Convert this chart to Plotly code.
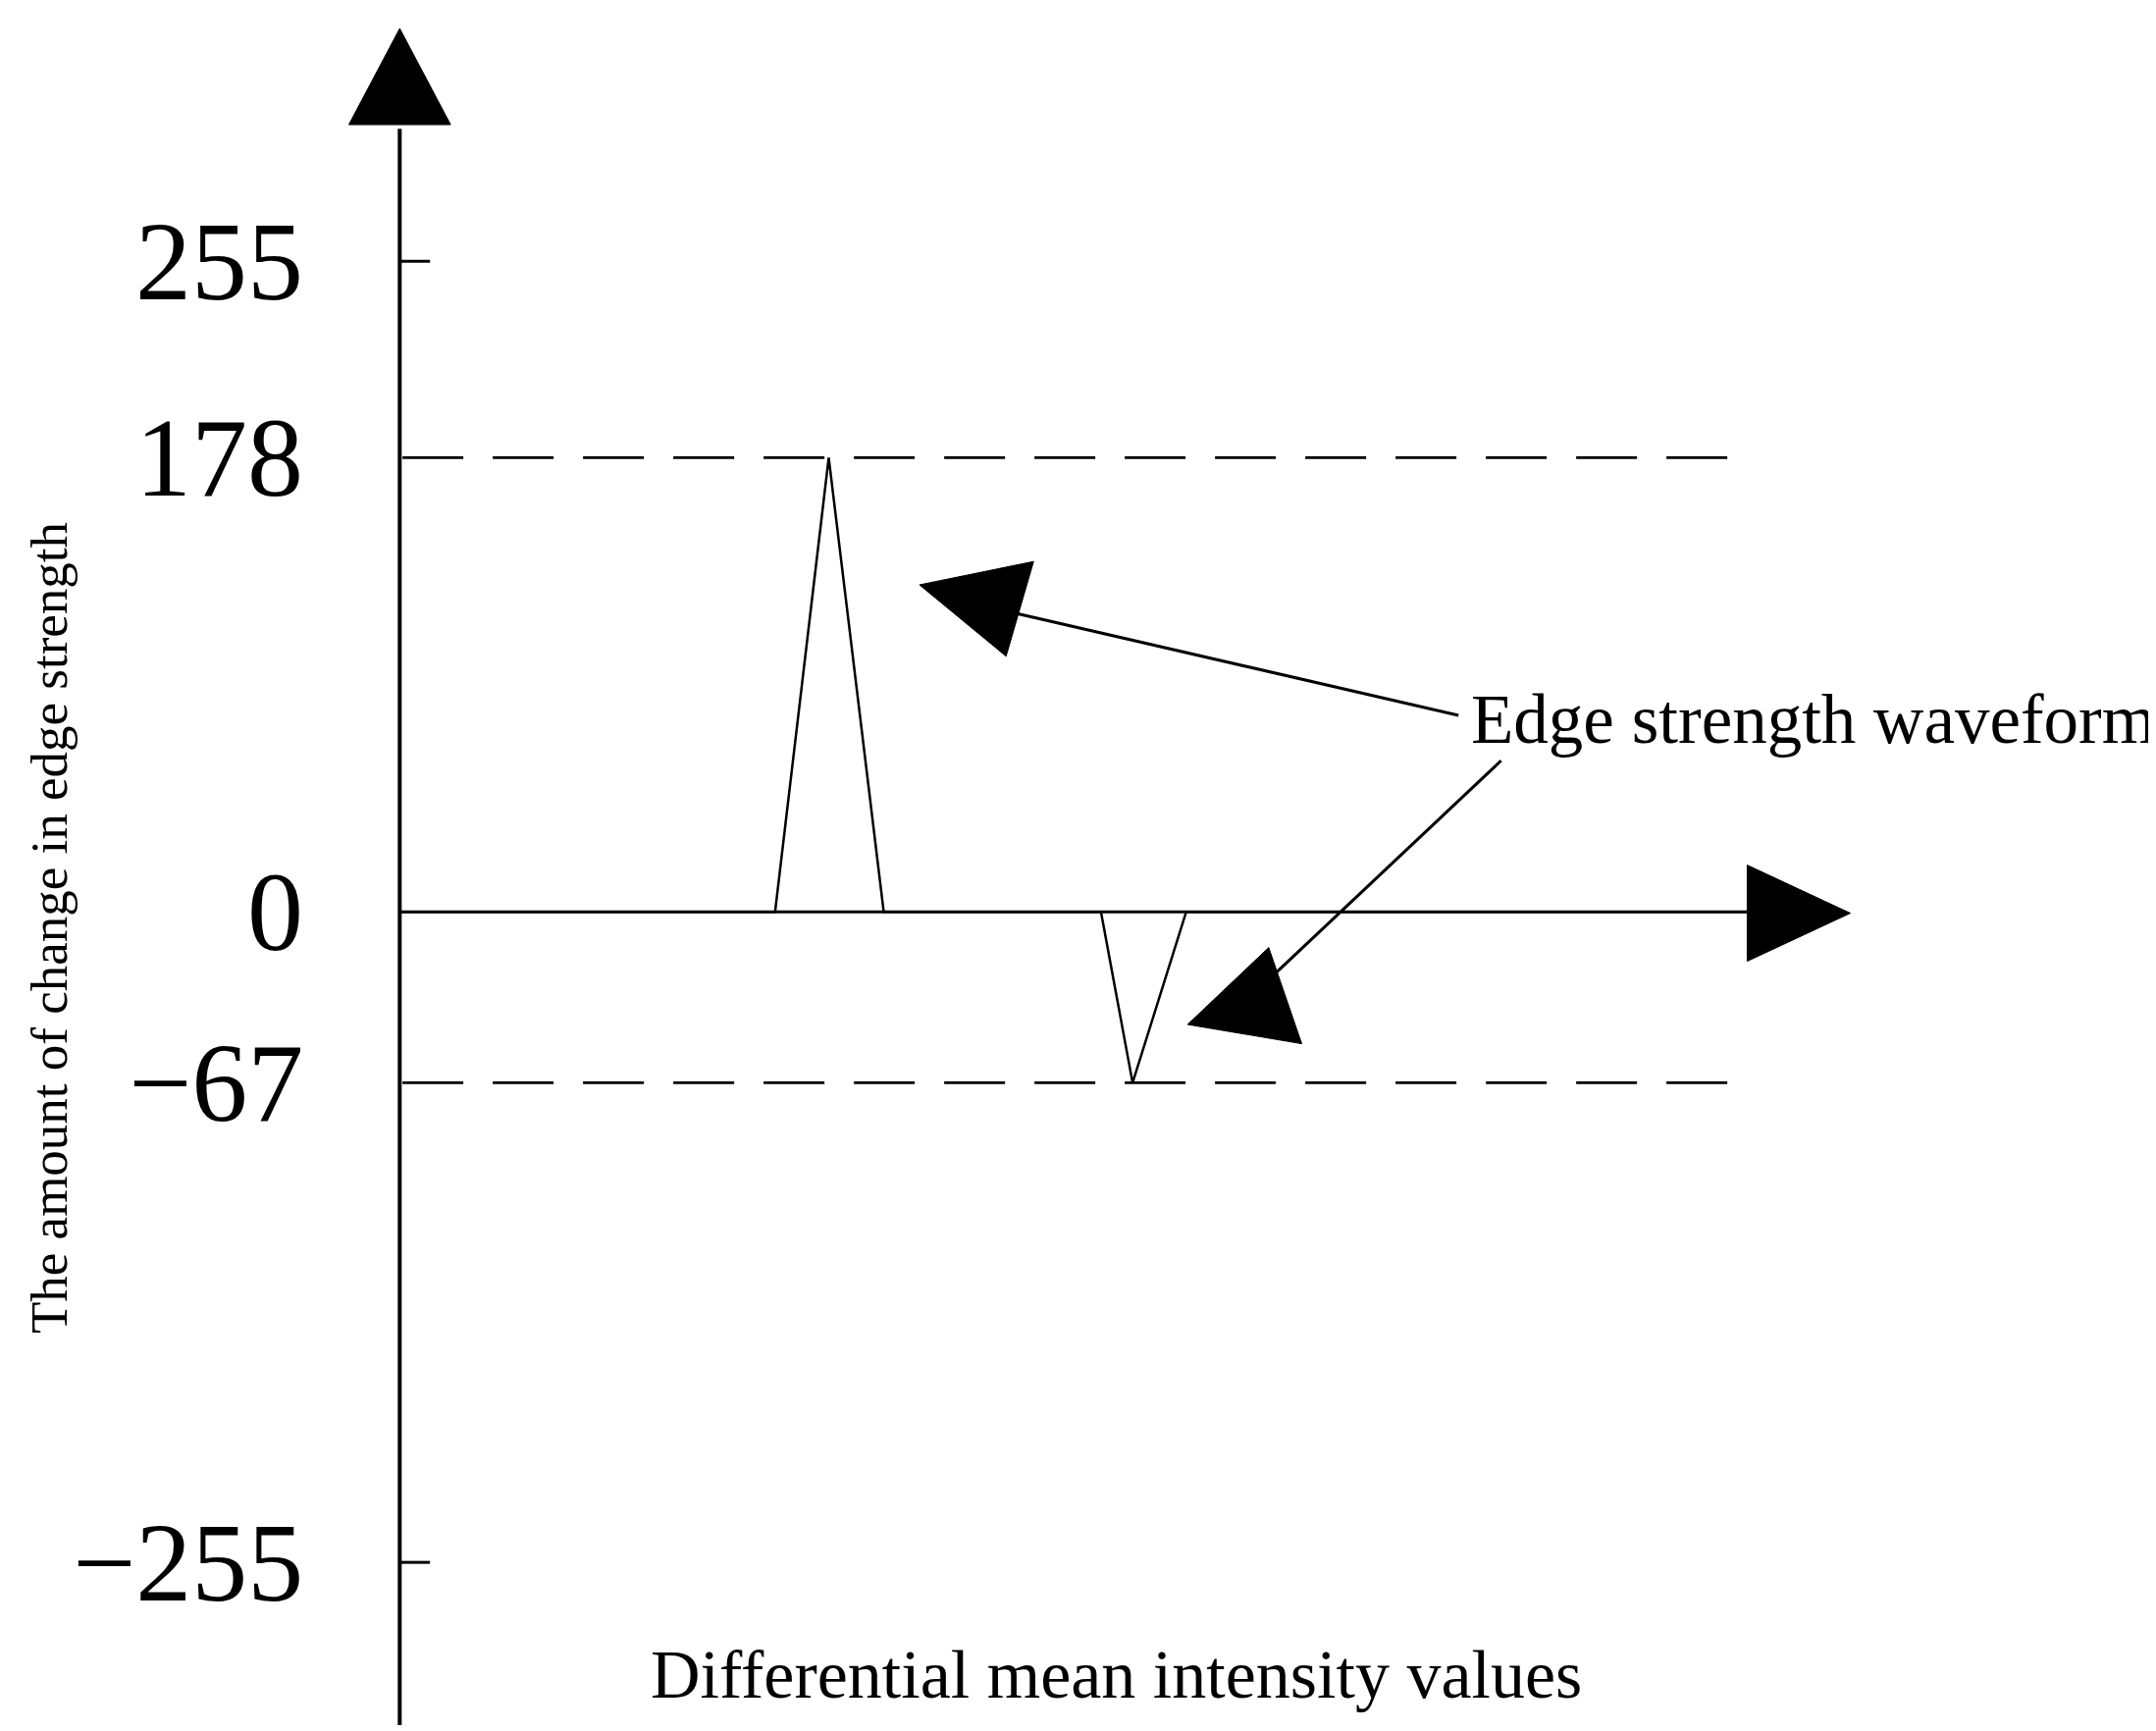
import plotly.graph_objects as go

# data
wave_x = [285, 558, 597, 637, 795, 818, 857, 1265]
wave_y = [0, 0, 178, 0, 0, -67, 0, 0]
levels = [178, -67]
tick_vals = [255, 178, 0, -67, -255]
tick_text = ["255", "178", "0", "\u221267", "\u2212255"]

S = 1.857  # px per unit in layout reference frame
def py(p):
    return (658 - p) / S

fig = go.Figure()
fig.add_trace(go.Scatter(x=wave_x, y=wave_y, mode="lines",
                         line=dict(color="black", width=2.5), showlegend=False))
for lv in levels:
    fig.add_trace(go.Scatter(x=[287, 1265], y=[lv, lv], mode="lines",
                             line=dict(color="black", width=2.8, dash="62px,30px"), showlegend=False))

shapes = []
shapes.append(dict(type="line", x0=285, x1=285, y0=py(88), y1=py(1250), line=dict(color="black", width=4)))
shapes.append(dict(type="line", x0=285, x1=1265, y0=0, y1=0, line=dict(color="black", width=3)))
for v in [255, -255]:
    shapes.append(dict(type="line", x0=285, x1=307, y0=v, y1=v, line=dict(color="black", width=3)))
def tri(pts):
    d = "M " + " L ".join(f"{x},{py(y)}" for x, y in pts) + " Z"
    return dict(type="path", path=d, fillcolor="black", line=dict(color="black", width=1))
shapes.append(tri([(285, 15), (248, 85), (322, 85)]))
shapes.append(tri([(1340, 659), (1265, 624), (1265, 694)]))
shapes.append(dict(type="line", x0=1055, x1=730, y0=py(515), y1=py(440), line=dict(color="black", width=3)))
shapes.append(tri([(663, 420), (746, 403), (726, 472)]))
shapes.append(dict(type="line", x0=1086, x1=912, y0=py(548), y1=py(712), line=dict(color="black", width=3)))
shapes.append(tri([(858, 740), (917, 684), (941, 754)]))

ann = []
for v, t in zip(tick_vals, tick_text):
    ann.append(dict(x=216, y=v, text=t, showarrow=False, xanchor="right", yanchor="middle",
                    font=dict(family="Liberation Serif", size=114, color="black")))
ann.append(dict(x=1063, y=py(518), text="Edge strength waveform", showarrow=False, xanchor="left",
                yanchor="middle", font=dict(family="Liberation Serif", size=71, color="black")))
ann.append(dict(x=806, y=py(1213), text="Differential mean intensity values", showarrow=False,
                xanchor="center", yanchor="middle", font=dict(family="Liberation Serif", size=70, color="black")))
ann.append(dict(x=30, y=py(670), text="The amount of change in edge strength", showarrow=False, textangle=-90,
                xanchor="center", yanchor="middle", font=dict(family="Liberation Serif", size=53, color="black")))

fig.update_layout(width=2197, height=1764, margin=dict(l=0, r=0, t=0, b=0),
                  plot_bgcolor="white", paper_bgcolor="white", shapes=shapes, annotations=ann,
                  xaxis=dict(range=[0, 1568], visible=False),
                  yaxis=dict(range=[py(1260), py(0)], visible=False))
fig.write_html("out.html")
